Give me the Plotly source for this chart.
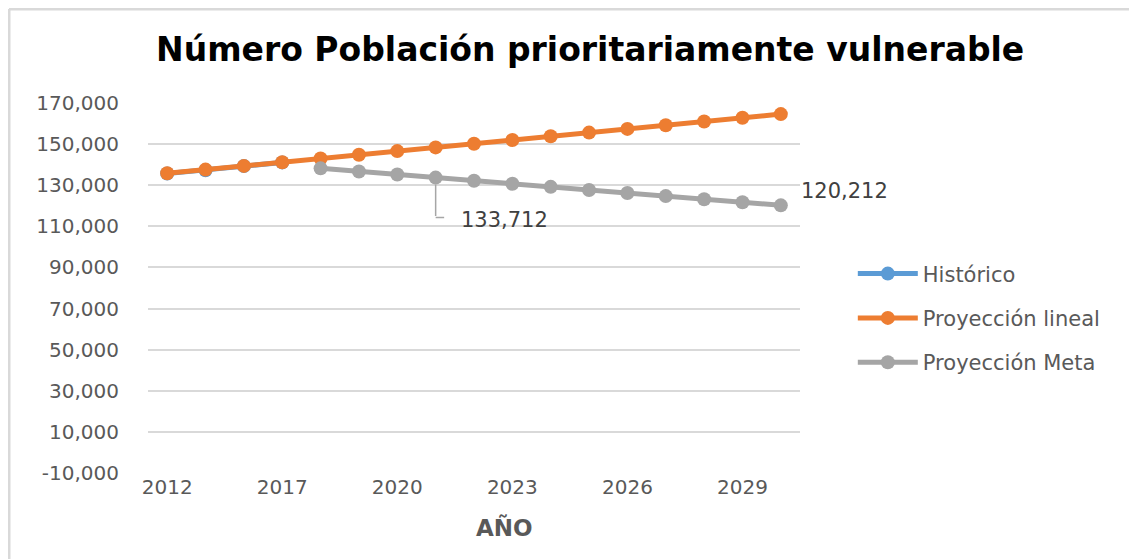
import plotly.graph_objects as go

# categories (only every third year is labelled on the axis)
years = ["2012", "2014", "2016", "2017", "2018", "2019", "2020", "2021", "2022",
         "2023", "2024", "2025", "2026", "2027", "2028", "2029", "2030"]
tick_years = ["2012", "2017", "2020", "2023", "2026", "2029"]
y_ticks = [-10000, 10000, 30000, 50000, 70000, 90000, 110000, 130000, 150000, 170000]

historico_years = ["2012", "2014", "2016", "2017"]
historico = [135700, 137300, 139300, 141100]

lineal = [135800, 137600, 139400, 141200, 143000, 144800, 146600, 148400, 150200,
          152000, 153800, 155600, 157400, 159200, 161000, 162800, 164600]

meta_years = ["2018", "2019", "2020", "2021", "2022", "2023", "2024",
              "2025", "2026", "2027", "2028", "2029", "2030"]
meta = [138212, 136712, 135212, 133712, 132212, 130712, 129212,
        127712, 126212, 124712, 123212, 121712, 120212]

txt = "#595959"
fnt = "DejaVu Sans"

fig = go.Figure()

fig.add_trace(go.Scatter(x=historico_years, y=historico, mode="lines+markers",
                         name="Histórico", legendgroup="h",
                         line=dict(color="#5b9bd5", width=5),
                         marker=dict(color="#5b9bd5", size=14)))
fig.add_trace(go.Scatter(x=years, y=lineal, mode="lines+markers",
                         name="Proyección lineal", legendgroup="l",
                         line=dict(color="#ed7d31", width=5),
                         marker=dict(color="#ed7d31", size=14)))
fig.add_trace(go.Scatter(x=meta_years, y=meta, mode="lines+markers",
                         name="Proyección Meta", legendgroup="m",
                         line=dict(color="#a5a5a5", width=5),
                         marker=dict(color="#a5a5a5", size=14)))

# data labels (category index used for x)
i21 = years.index("2021")
i30 = years.index("2030")
fig.add_annotation(x=i21, y=meta[3], text=f"{meta[3]:,}", showarrow=False,
                   xanchor="left", yanchor="middle", xshift=23, yshift=-42,
                   font=dict(family=fnt, size=21, color="#404040"))
fig.add_annotation(x=i30, y=meta[-1], text=f"{meta[-1]:,}", showarrow=False,
                   xanchor="left", yanchor="middle", xshift=18, yshift=14,
                   font=dict(family=fnt, size=21, color="#404040"))
# leader line for 133,712 (vertical part, then horizontal part)
fig.add_annotation(x=i21, y=meta[3], text="", showarrow=True, arrowhead=0,
                   ax=0, ay=40, standoff=7, arrowwidth=1.5, arrowcolor="#a6a6a6")
fig.add_annotation(x=i21, y=meta[3], text="", showarrow=True, arrowhead=0,
                   ax=10, ay=0, yshift=-40, arrowwidth=1.5, arrowcolor="#a6a6a6")

# chart frame (top and left edge)
fig.add_shape(type="line", xref="paper", yref="paper", x0=-0.2132, x1=1.8,
              y0=1.254, y1=1.254, line=dict(color="#d9d9d9", width=3))
fig.add_shape(type="line", xref="paper", yref="paper", x0=-0.2132, x1=-0.2132,
              y0=-0.3, y1=1.254, line=dict(color="#d9d9d9", width=3))

fig.add_annotation(x=0.5475, y=-0.1486, xref="paper", yref="paper", text="<b>AÑO</b>",
                   xanchor="center", yanchor="middle",
                   showarrow=False, font=dict(family=fnt, size=23, color=txt))

fig.update_layout(
    title=dict(text="<b>Número Población prioritariamente vulnerable</b>",
               x=0.512, xanchor="center", y=0.925, yanchor="middle",
               font=dict(family=fnt, size=33, color="#000000")),
    width=1137,
    height=559,
    margin=dict(l=140, r=345, t=95, b=94),
    paper_bgcolor="white",
    plot_bgcolor="white",
    showlegend=True,
    legend=dict(x=1.081, y=0.419, xanchor="left", yanchor="middle",
                font=dict(family=fnt, size=21, color=txt), itemwidth=60,
                tracegroupgap=14, bgcolor="rgba(0,0,0,0)"),
)

fig.update_xaxes(type="category", categoryorder="array", categoryarray=years,
                 range=[-0.5, 16.5], tickmode="array", tickvals=tick_years,
                 ticktext=tick_years, showgrid=False, showline=False, ticks="",
                 tickfont=dict(family=fnt, size=20, color=txt))
fig.update_yaxes(range=[-10000, 170000], tickmode="array", tickvals=y_ticks,
                 ticktext=[f"{v:,}" for v in y_ticks],
                 showgrid=True, gridcolor="#d9d9d9", gridwidth=1.5,
                 zeroline=False, showline=False, ticks="", ticklabelstandoff=28,
                 tickfont=dict(family=fnt, size=20, color=txt))

fig.write_html("out.html")
